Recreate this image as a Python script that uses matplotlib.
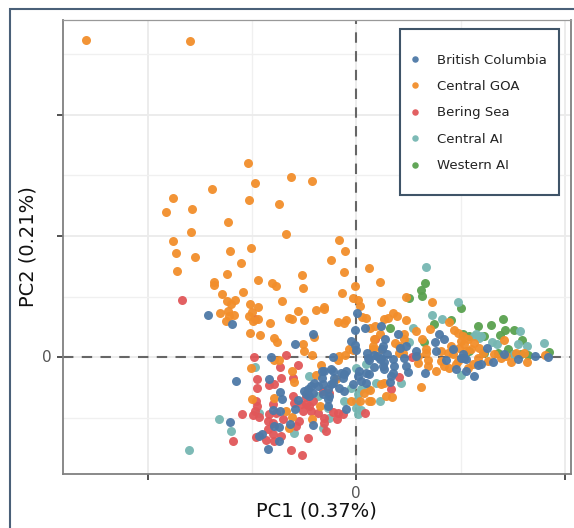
import numpy as np
import matplotlib.pyplot as plt
from matplotlib.patches import Rectangle
from matplotlib.ticker import FixedLocator

# PCA scores, (PC1, PC2), arbitrary units (the axis shows only 0)
british_columbia = [
    (-148,42),(-124,33),(-85,0),(1,44),(-1,27),(9,29),(25,31),(-5,16),(-1,12),(0,7),(-23,0),(-61,13),(-43,23),
    (11,4),(12,-1),(21,1),(25,-1),(31,3),(37,-2),(27,11),(29,18),(42,23),(50,11),(44,9),(-34,-14),(-23,-14),
    (26,8),(18,2),(24,-2),(28,-5),(13,-3),(18,-10),(27,-9),(28,-12),(38,-9),(37,-16),(35,-19),(48,-1),(50,-9),
    (52,-15),(60,6),(69,-16),(34,-25),(13,-17),(10,-16),(3,-14),(2,-19),(5,-24),(10,-26),(-15,-16),(-12,-17),
    (-10,-14),(-13,-21),(-22,-21),(-23,-26),(-3,-27),(-17,-31),(-12,-34),(-28,-32),(-33,-37),(-27,-39),(-28,-42),
    (-10,-52),(-34,-21),(-120,-24),(-87,-22),(-76,-35),(-74,-42),(-83,-53),(-76,-54),(-58,-43),(-61,-52),(-66,-67),
    (-82,-69),(-77,-70),(-43,-68),(-94,-77),(-97,-79),(-77,-84),(-88,-92),(-126,-65),(-52,-34),(-48,-32),(-45,-29),
    (-42,-26),(-38,-29),(-47,-39),(-50,-37),(-43,-36),(-32,-14),(-25,-27),(-33,-27),(-28,-49),(-25,-12),(192,0),
    (179,1),(162,-2),(148,3),(137,-5),(83,23),(79,15),(88,18),(97,8),(80,6),(131,9),(108,-1),(105,-1),(107,3),
    (110,-2),(90,-3),(122,-8),(125,-7),(110,-14),(118,-19),(100,-12),(60,1),
]
central_goa = [
    (-270,317),(-166,316),(-108,194),(-101,174),(-144,168),(-107,157),(-65,180),(-44,176),(-183,159),(-164,148),
    (-190,145),(-77,153),(-128,135),(-165,125),(-183,116),(-180,104),(-161,100),(-126,106),(-105,109),(-115,94),
    (-179,86),(-129,83),(-142,75),(-142,72),(-98,77),(-84,74),(-80,71),(-113,65),(-134,63),(-129,56),(-121,57),
    (-125,53),(-106,53),(-98,50),(-74,56),(-136,44),(-128,46),(-122,42),(-127,41),(-130,36),(-107,41),(-104,45),
    (-98,38),(-103,36),(-67,39),(-86,34),(-106,24),(-96,22),(-82,19),(-79,15),(-70,123),(-17,117),(-11,106),
    (-25,97),(13,89),(-12,85),(-54,82),(24,75),(-53,69),(-1,71),(-14,64),(-3,59),(2,57),(4,51),(25,55),(50,60),
    (-58,46),(-40,47),(-32,50),(-32,48),(-64,38),(-52,37),(-18,35),(-12,34),(-10,37),(6,40),(10,39),(14,29),
    (19,31),(28,38),(32,39),(37,44),(41,41),(50,37),(24,23),(39,14),(48,18),(17,11),(25,8),(43,4),(-53,13),(-52,6),
    (-42,20),(-44,2),(-11,2),(-18,-3),(-17,1),(-3,7),(-7,8),(18,18),(17,8),(43,11),(47,4),(48,23),(62,-6),(62,1),
    (60,26),(70,4),(72,-3),(66,18),(76,55),(93,35),(74,28),(148,17),(189,2),(171,-5),(155,-5),(168,4),(98,27),
    (102,24),(107,21),(105,16),(112,18),(118,14),(123,9),(80,-14),(88,-9),(93,-11),(100,-7),(112,-11),(85,-4),
    (92,4),(70,8),(72,-9),(117,-7),(122,-1),(132,-4),(138,3),(145,-1),(103,9),(108,13),(102,-4),(97,3),(65,-30),
    (-5,-44),(4,-44),(13,-44),(15,-44),(8,-36),(14,-33),(25,-27),(28,-26),(30,-39),(36,-40),(-105,-11),(-82,-3),
    (-77,-3),(-64,-14),(-62,-25),(-35,-8),(-40,-18),(-104,-42),(-82,-41),(-70,-54),(-64,-60),(-67,-71),(-36,-49),
    (-44,-62),(115,8),(95,11),(110,6),(85,6),(127,4),(150,1),(160,4),(-20,-22),
]
bering_sea = [
    (-174,57),(-101,38),(-102,0),(-70,2),(19,18),(56,0),(43,-20),(35,-32),(9,-56),(-23,-55),(-18,-56),(-19,-62),
    (-13,-57),(-32,-61),(-27,-36),(-33,-34),(-76,-10),(-58,-8),(-99,-22),(-99,-31),(-87,-28),(-82,-27),(-75,-21),
    (-63,-21),(-114,-57),(-103,-58),(-100,-44),(-99,-49),(-101,-54),(-97,-60),(-83,-47),(-80,-56),(-88,-64),(-83,-66),
    (-73,-62),(-63,-39),(-62,-46),(-55,-47),(-50,-47),(-47,-49),(-43,-44),(-57,-64),(-60,-69),(-53,-54),(-45,-54),
    (-38,-56),(-32,-66),(-30,-74),(-48,-81),(-65,-93),(-54,-98),(-123,-84),(-100,-80),(-90,-83),(-83,-77),(-88,-72),
    (-82,-84),(-75,-79),(-87,-57),(-50,-40),
]
central_ai = [
    (70,90),(102,55),(76,42),(86,38),(57,29),(53,15),(164,26),(188,14),(162,13),(171,11),(158,3),(136,15),(141,13),
    (125,21),(120,23),(123,19),(118,21),(105,-18),(0,-11),(45,-26),(24,-44),(10,-7),(-5,-31),(5,-32),(2,-37),(0,-44),
    (0,-51),(2,-57),(5,-53),(-28,-51),(-27,-61),(-12,-44),(20,-26),(12,-32),(-101,-10),(-97,-56),(-137,-62),(-125,-74),
    (-47,-19),(-38,-39),(-62,-76),(-33,-71),(-167,-93),
]
western_ai = [
    (69,74),(65,67),(66,61),(53,59),(105,49),(95,37),(78,33),(34,29),(68,15),(122,31),(135,32),(147,38),(158,27),
    (149,27),(144,22),(166,17),(193,5),(165,3),(158,3),(172,2),(152,8),(142,4),(128,21),(128,4),(113,21),(113,6),(107,23),
]

legend_labels = ["British Columbia", "Central GOA", "Bering Sea", "Central AI", "Western AI"]
series = [british_columbia, central_goa, bering_sea, central_ai, western_ai]
colores = ["#4E79A7", "#F28E2B", "#E15759", "#76B7B2", "#59A14F"]
# orden de dibujo: lo ultimo queda encima
orden = [4, 3, 2, 1, 0]

fig = plt.figure(figsize=(5.74, 5.28), dpi=100)
W, H = 574, 528
ax = fig.add_axes([63/W, 1-474/H, (571-63)/W, (474-20)/H])

handles = {}
for i in orden:
    arr = np.array(series[i])
    handles[i] = ax.scatter(arr[:, 0], arr[:, 1], s=42, c=colores[i], alpha=0.95,
                            linewidths=0, label=legend_labels[i], zorder=3+orden.index(i)*0.1)

ax.set_xlim(-292.5, 215.5)
ax.set_ylim(-117.5, 336.5)

ax.xaxis.set_major_locator(FixedLocator([-208, 0, 209]))
ax.xaxis.set_minor_locator(FixedLocator([-104, 105]))
ax.yaxis.set_major_locator(FixedLocator([0, 121, 242]))
ax.yaxis.set_minor_locator(FixedLocator([-61, 60, 182, 303]))
ax.set_xticklabels(["", "0", ""])
ax.set_yticklabels(["0", "", ""])
ax.tick_params(which="major", length=4.5, width=1.2, color="#333333", labelcolor="#555555", labelsize=11, pad=4)
ax.tick_params(which="minor", length=0)
ax.grid(which="major", color="#ebebeb", lw=1.3, zorder=0)
ax.grid(which="minor", color="#f0f0f0", lw=1.0, zorder=0)
ax.set_axisbelow(True)

ax.axhline(0, color="#666666", lw=1.5, ls=(0, (5, 4)), zorder=2)
ax.axvline(0, color="#666666", lw=1.5, ls=(0, (5, 4)), zorder=2)

for lado in ["left", "bottom", "right"]:
    ax.spines[lado].set_color("#808080")
    ax.spines[lado].set_linewidth(1.3)
ax.spines["top"].set_color("#999999")
ax.spines["top"].set_linewidth(0.9)

fig.text(316/W, 1-511/H, "PC1 (0.37%)", fontsize=14, ha="center", va="center", color="#111111")
fig.text(28/W, 1-247/H, "PC2 (0.21%)", fontsize=14, rotation=90, ha="center", va="center", color="#111111")

# recuadro de la leyenda aparte, porque tiene mas margen arriba y abajo que a los lados
fig.add_artist(Rectangle((400/W, 1-195/H), 159/W, 166/H, transform=fig.transFigure,
                         facecolor="white", edgecolor="#3f5468", lw=1.5, zorder=2))
leg = fig.legend([handles[i] for i in range(5)], legend_labels, loc="upper left",
                 bbox_to_anchor=(412/W, 1-53.5/H), bbox_transform=fig.transFigure,
                 frameon=False, fontsize=9.5, labelspacing=1.02, borderpad=0, borderaxespad=0,
                 handlelength=0.45, handletextpad=1.45, markerscale=0.72, scatteryoffsets=[0.5])
leg.set_zorder(3)
for t in leg.get_texts():
    t.set_color("#222222")

# marco exterior, se corta en los bordes derecho e inferior
fig.add_artist(Rectangle((9.5/W, -0.05), 1.2, 1-9/H+0.05, transform=fig.transFigure,
                         fill=False, edgecolor="#4a6078", lw=1.5))

plt.savefig("out.png", dpi=100)
